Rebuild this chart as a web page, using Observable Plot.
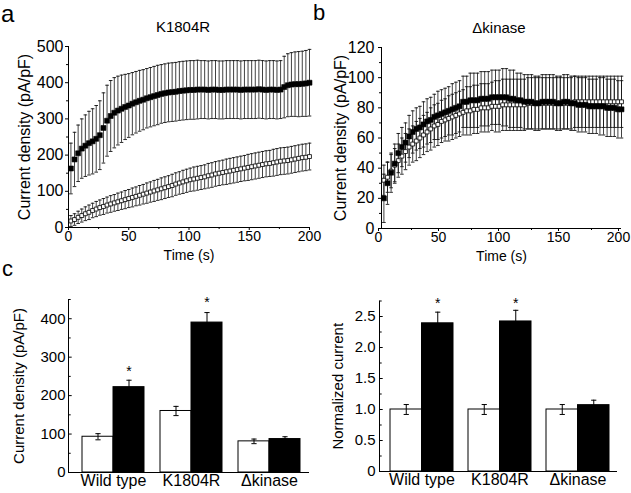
<!DOCTYPE html>
<html><head><meta charset="utf-8">
<script src="https://cdn.jsdelivr.net/npm/d3@7"></script>
<script src="https://cdn.jsdelivr.net/npm/@observablehq/plot@0.6"></script>
<style>
body{margin:0;background:#fff;}
#fig{position:relative;width:631px;height:493px;font-family:"Liberation Sans",Arial,sans-serif;color:#000;overflow:hidden;background:#fff}
.panel{position:absolute}
.lbl{position:absolute;white-space:nowrap}
</style></head><body><div id="fig">
<div class="lbl" style="left:1px;top:2px;font-size:24px;line-height:24px">a</div>
<div class="lbl" style="left:313px;top:2px;font-size:22px;line-height:22px">b</div>
<div class="lbl" style="left:2px;top:258px;font-size:22px;line-height:22px">c</div>
<div class="lbl" style="left:183px;top:19px;font-size:15px;line-height:1;transform:translateX(-50%)">K1804R</div>
<div class="lbl" style="left:499px;top:20px;font-size:15px;line-height:1;transform:translateX(-50%)">Δkinase</div>
</div>
<script>
// ---- time course data (s) ----
const times = [2,5,8,11,14,17,20,23,26,29,32,35,38,41,44,47,50,53,56,59,62,65,68,71,74,77,80,83,86,89,92,95,98,101,104,107,110,113,116,119,122,125,128,131,134,137,140,143,146,149,152,155,158,161,164,167,170,173,176,179,182,185,188,191,194,197,200];

// panel a (K1804R)
const aFilledMean = [163,188,205,218,226,233,238,245,255,275,
 295,308,317,323,328,333,337,342,346,350,
 353,357,360,363,366,369,371,373,374,375,
 377,378,379,380,380,381,381,381,380,381,
 381,380,380,381,381,381,381,380,381,381,
 381,381,382,381,380,381,381,380,381,388,
 393,395,396,396,397,398,400];
const aFilledErr = [70,75,78,82,85,88,90,92,95,97,
 98,98,97,95,93,90,88,86,85,84,
 83,82,82,82,82,81,81,81,81,81,
 81,81,81,81,81,81,80,80,80,80,
 80,80,80,80,80,80,80,80,80,80,
 80,80,80,80,80,80,80,80,80,85,
 87,88,89,90,90,91,92];
const aOpenMean = [18,22,28,33,38,42,47,51,55,58,
 62,65,68,71,74,77,80,83,86,89,
 92,95,98,101,104,107,110,113,116,120,
 123,126,129,132,134,136,138,140,143,145,
 148,150,152,154,156,158,160,162,164,166,
 168,170,172,174,176,177,179,181,183,184,
 185,187,189,191,193,194,196];
const aOpenErr = [15,16,17,18,19,20,20,21,21,22,
 22,23,23,24,24,25,25,26,26,27,
 27,28,28,29,29,30,30,30,31,31,
 31,32,32,32,33,33,33,33,34,34,
 34,34,34,35,35,35,35,35,35,36,
 36,36,36,36,36,36,37,37,37,37,
 37,37,37,37,37,37,37];

// panel b (Δkinase)
const bFilledMean = [20,30,37,43,50,54,57,61,64,66,
 67,69,71,72,74,75,76,77,78,79,
 80,81,84,84,85,85,85,86,86,86,
 87,87,87,87,87,86,86,85,85,84,
 84,84,83,83,84,84,84,84,83,83,
 84,84,83,83,82,82,82,81,81,81,
 81,81,80,80,80,79,79];
const bFilledErr = [16,14,13,13,13,13,13,14,14,14,
 14,15,15,15,15,16,16,16,16,17,
 17,17,17,17,18,18,18,18,18,18,
 18,18,18,19,19,19,19,18,18,18,
 18,18,18,18,18,18,18,18,18,18,
 18,18,18,18,18,18,18,18,18,18,
 19,19,19,19,19,19,19];
const bOpenMean = [32,34,38,42,45,48,51,54,56,58,
 60,62,64,66,68,69,71,72,73,74,
 75,76,77,78,78,79,79,80,80,80,
 81,81,81,82,82,82,82,82,82,82,
 83,83,83,83,83,83,83,83,83,83,
 83,83,83,84,84,84,84,84,84,84,
 84,84,84,84,84,84,84];
const bOpenErr = [10,10,11,11,11,12,12,12,12,13,
 13,13,13,14,14,14,14,14,15,15,
 15,15,15,16,16,16,16,16,16,16,
 16,17,17,17,17,17,17,17,17,17,
 17,17,17,17,17,17,17,17,17,17,
 17,17,17,17,17,17,17,17,17,17,
 17,17,17,17,17,17,17];

// ---- bar chart data ----
const groups = ["Wild type","K1804R","Δkinase"];
const densityCtrl = [93,160,81];
const densityCtrlErr = [8,12,6];
const densityTreat = [222,390,87];
const densityTreatErr = [18,26,6];
const densityStar = [274,452,null];
const normCtrl = [1.0,1.0,1.0];
const normCtrlErr = [0.08,0.08,0.08];
const normTreat = [2.39,2.42,1.07];
const normTreatErr = [0.18,0.18,0.08];
const normStar = [2.77,2.77,null];

// tick values
const aYTicks = [0,100,200,300,400,500], aYMinor = [50,150,250,350,450];
const bYTicks = [0,20,40,60,80,100,120], bYMinor = [10,30,50,70,90,110];
const tTicks = [0,50,100,150,200], tMinor = [25,75,125,175];
const cYTicks = [0,100,200,300,400], cYMinor = [50,150,250,350,450];
const dYTicks = [0,0.5,1.0,1.5,2.0,2.5], dYMinor = [0.25,0.75,1.25,1.75,2.25,2.75];

const FONT = '"Liberation Sans", Arial, sans-serif';
const hline = {draw(ctx, size){ const w = Math.sqrt(size/Math.PI); ctx.moveTo(-w,0); ctx.lineTo(w,0); }};

function series(m, e){ return times.map((t,i)=>({t, m:m[i], lo:m[i]-e[i], hi:m[i]+e[i]})); }

function timePlot(o){
  const open = series(o.openMean, o.openErr), filled = series(o.filledMean, o.filledErr);
  const errMarks = (d) => [
    Plot.ruleX(d, {x:"t", y1:"lo", y2:"hi", stroke:"#111", strokeWidth:0.8}),
    Plot.dot(d, {x:"t", y:"hi", symbol:hline, r:1.8, stroke:"#111", strokeWidth:0.9, fill:"none"}),
    Plot.dot(d, {x:"t", y:"lo", symbol:hline, r:1.8, stroke:"#111", strokeWidth:0.9, fill:"none"})
  ];
  return Plot.plot({
    width:o.width, height:260, marginLeft:o.ml, marginRight:o.mr, marginTop:o.mt, marginBottom:o.mb,
    style:{fontFamily:FONT, fontSize:"16px", background:"transparent", color:"black", overflow:"visible"},
    x:{domain:[0,200]}, y:{domain:o.ydomain},
    marks:[
      ...errMarks(open), ...errMarks(filled),
      Plot.dot(open, {x:"t", y:"m", symbol:"square", r:2.2, fill:"white", stroke:"black", strokeWidth:0.8}),
      Plot.dot(filled, {x:"t", y:"m", symbol:"square", r:2.8, fill:"black", stroke:"black", strokeWidth:0.6}),
      Plot.ruleX([0], {stroke:"black", strokeWidth:1}),
      Plot.ruleY([0], {stroke:"black", strokeWidth:1}),
      Plot.axisY({ticks:o.yticks, tickSize:3, tickPadding:o.ypad, label:"Current density (pA/pF)", labelAnchor:"center", labelOffset:o.ylo, labelArrow:"none"}),
      Plot.axisY({ticks:o.yminor, tickSize:2, text:null, label:null}),
      Plot.axisX({ticks:tTicks, tickSize:3, tickPadding:1, dx:o.xdx, fontSize:"14px", label:null}),
      Plot.axisX({ticks:tMinor, tickSize:2, text:null, label:"Time (s)", fontSize:"14px", labelAnchor:"center", labelOffset:32, labelArrow:"none"})
    ]
  });
}

function barPlot(o){
  const rows = groups.map((g,i)=>({g, c:o.ctrl[i], ce:o.ctrlErr[i], t:o.treat[i], te:o.treatErr[i], s:o.star[i]}));
  const half = o.half, q = half/2;
  const err = (v, e, dx) => [
    Plot.ruleX(rows, {x:"g", y1:d=>d[v]-d[e], y2:d=>d[v]+d[e], dx, stroke:"black", strokeWidth:1}),
    Plot.dot(rows, {x:"g", y:d=>d[v]+d[e], dx, symbol:hline, r:2.6, stroke:"black", strokeWidth:1, fill:"none"}),
    Plot.dot(rows, {x:"g", y:d=>d[v]-d[e], dx, symbol:hline, r:2.6, stroke:"black", strokeWidth:1, fill:"none"})
  ];
  return Plot.plot({
    width:o.width, height:233, marginLeft:o.ml, marginRight:o.mr, marginTop:o.mt, marginBottom:o.mb,
    style:{fontFamily:FONT, fontSize:"15px", background:"transparent", color:"black", overflow:"visible"},
    x:{type:"band", domain:groups, paddingInner:o.pi, paddingOuter:o.po, align:o.align},
    y:{domain:o.ydomain},
    marks:[
      Plot.barY(rows, {x:"g", y:"c", insetRight:half, fill:"white", stroke:"black", strokeWidth:1}),
      Plot.barY(rows, {x:"g", y:"t", insetLeft:half, fill:"black", stroke:"black", strokeWidth:1}),
      ...err("c","ce",-q), ...err("t","te",q),
      Plot.text(rows.filter(d=>d.s!=null), {x:"g", y:"s", dx:q, text:()=>"*", fontSize:14, dy:4}),
      Plot.frame({anchor:"left", stroke:"black", strokeWidth:1}),
      Plot.frame({anchor:"bottom", stroke:"black", strokeWidth:1}),
      Plot.dot(o.yticks, {y:d=>d, frameAnchor:"left", symbol:hline, r:1.6, dx:1.6, stroke:"black", strokeWidth:1, fill:"none"}),
      Plot.dot(o.yminor, {y:d=>d, frameAnchor:"left", symbol:hline, r:1.1, dx:1.1, stroke:"black", strokeWidth:1, fill:"none"}),
      Plot.axisY({ticks:o.yticks, tickSize:0, tickPadding:o.ypad, tickFormat:o.fmt, label:o.ylabel, labelAnchor:"center", labelOffset:o.ylo, labelArrow:"none"}),
      Plot.axisX({tickSize:0, tickPadding:2, fontSize:"16px", label:null})
    ]
  });
}

const fig = document.getElementById("fig");
function place(svg, left, top){ const d = document.createElement("div"); d.className="panel"; d.style.left=left+"px"; d.style.top=top+"px"; d.appendChild(svg); fig.appendChild(d); }

place(timePlot({width:315, ml:68, mr:6, mt:46, mb:33, ydomain:[0,500], yticks:aYTicks, yminor:aYMinor, ypad:2, ylo:50, xdx:0,
  filledMean:aFilledMean, filledErr:aFilledErr, openMean:aOpenMean, openErr:aOpenErr}), 0, 0);
place(timePlot({width:316, ml:66, mr:10, mt:47, mb:32, ydomain:[0,120], yticks:bYTicks, yminor:bYMinor, ypad:4, ylo:47, xdx:-3,
  filledMean:bFilledMean, filledErr:bFilledErr, openMean:bOpenMean, openErr:bOpenErr}), 315, 0);
place(barPlot({width:315, ml:68, mr:7, mt:39, mb:21, ydomain:[0,450], pi:0.205, po:0.14, align:0.64, half:31,
  ctrl:densityCtrl, ctrlErr:densityCtrlErr, treat:densityTreat, treatErr:densityTreatErr, star:densityStar,
  yticks:cYTicks, yminor:cYMinor, ypad:3, fmt:d=>String(d), ylabel:"Current density (pA/pF)", ylo:55}), 0, 260);
place(barPlot({width:316, ml:64, mr:15, mt:40.5, mb:22, ydomain:[0,2.75], pi:0.192, po:0.115, align:0.61, half:31.5,
  ctrl:normCtrl, ctrlErr:normCtrlErr, treat:normTreat, treatErr:normTreatErr, star:normStar,
  yticks:dYTicks, yminor:dYMinor, ypad:4, fmt:d=>d===0?"0":d.toFixed(1), ylabel:"Normalized current", ylo:47}), 315, 260);
</script>
</body></html>
